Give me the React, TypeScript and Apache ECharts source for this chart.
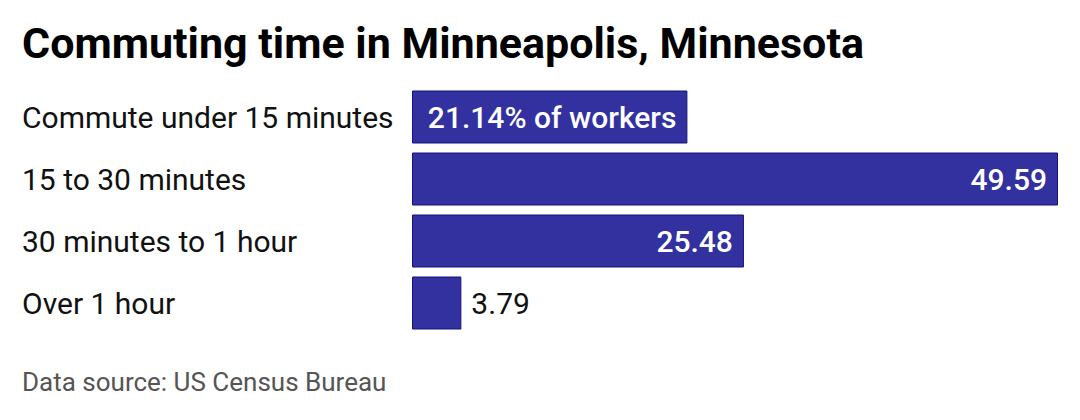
import React, { useEffect, useRef } from 'react';
import * as echarts from 'echarts';

const categories = [
    'Commute under 15 minutes',
    '15 to 30 minutes',
    '30 minutes to 1 hour',
    'Over 1 hour'
];
const shares = [21.14, 49.59, 25.48, 3.79];
const labelTexts = ['21.14% of workers', '49.59', '25.48', '3.79'];
const insideBar = [true, true, true, false];

const App: React.FC = () => {
    const chartRef = useRef<HTMLDivElement>(null);

    useEffect(() => {
        if (!chartRef.current) return;
        const chart = echarts.init(chartRef.current, null, { renderer: 'svg' });

        const font = 'Roboto, "Noto Sans", sans-serif';

        const data = shares.map((v, i) => ({
            value: v,
            label: insideBar[i]
                ? { position: 'insideRight', distance: 11, color: '#fff', fontWeight: 500 }
                : { position: 'right', distance: 10, color: '#111', fontWeight: 400 }
        }));

        chart.setOption({
            animation: false,
            textStyle: { fontFamily: font },
            title: {
                text: 'Commuting time in Minneapolis, Minnesota',
                left: 22,
                top: 21,
                padding: 0,
                textStyle: { fontSize: 43, fontWeight: 'bold', color: '#000', fontFamily: font }
            },
            graphic: [{
                type: 'text',
                left: 22,
                top: 369,
                style: {
                    text: 'Data source: US Census Bureau',
                    fontSize: 26,
                    fill: '#555',
                    fontFamily: font
                }
            }],
            grid: { left: 412, right: 22, top: 86, height: 248, containLabel: false },
            xAxis: {
                type: 'value',
                min: 0,
                max: 'dataMax',
                show: false
            },
            yAxis: {
                type: 'category',
                data: categories,
                inverse: true,
                axisLine: { show: false },
                axisTick: { show: false },
                axisLabel: {
                    align: 'left',
                    margin: 390,
                    fontSize: 30,
                    color: '#111',
                    fontFamily: font
                }
            },
            series: [{
                type: 'bar',
                data,
                barWidth: 53,
                itemStyle: { color: '#3330a0', borderColor: '#15137a', borderWidth: 1 },
                label: {
                    show: true,
                    fontSize: 30,
                    fontFamily: font,
                    formatter: (p: any) => labelTexts[p.dataIndex]
                }
            }]
        });

        const handleResize = () => chart.resize();
        window.addEventListener('resize', handleResize);
        return () => {
            window.removeEventListener('resize', handleResize);
            chart.dispose();
        };
    }, []);

    return <div ref={chartRef} style={{ width: 1080, height: 420, margin: -8 }} />;
};

export default App;
